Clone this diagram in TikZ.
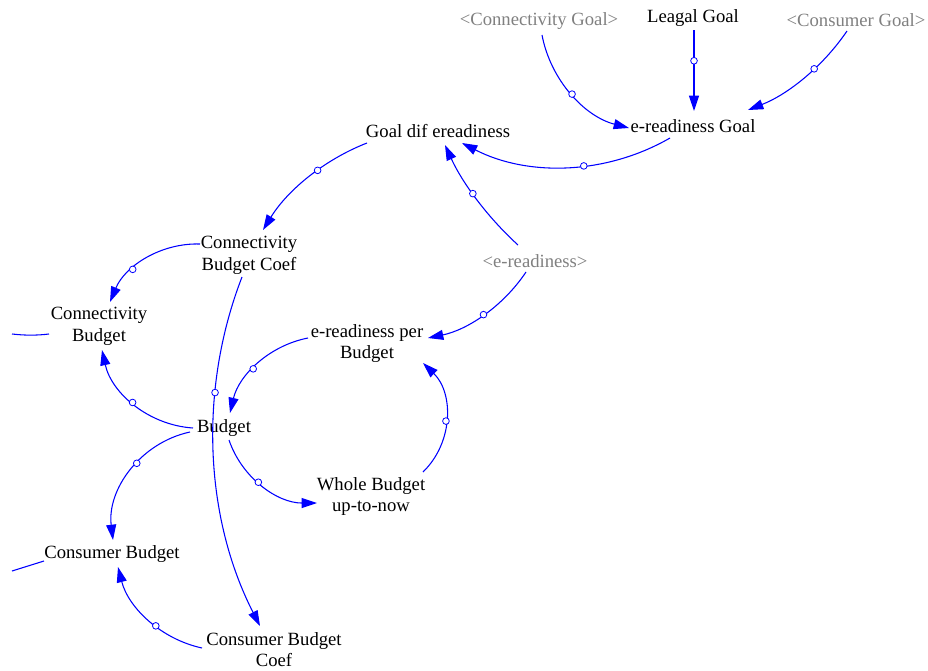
\documentclass[tikz,border=0pt]{standalone}
\usepackage{fontspec}
\setmainfont{Liberation Serif}
\usetikzlibrary{arrows.meta}
\definecolor{linkblue}{RGB}{0,0,255}
\definecolor{ghost}{RGB}{128,128,128}
\begin{document}
\begin{tikzpicture}[x=0.75pt,y=-0.75pt,
  var/.style={font=\fontsize{14}{16.2}\selectfont, align=center, inner sep=0pt},
  shadowvar/.style={var, text=ghost},
  link/.style={draw=linkblue, line width=0.8pt, -{Triangle[length=11.5pt,width=7.5pt]}},
  plainlink/.style={draw=linkblue, line width=0.8pt},
  handle/.style={circle, draw=linkblue, fill=white, line width=0.6pt, minimum size=5pt, inner sep=0pt}]
\useasboundingbox (0,0) rectangle (928,671);

% variables
\node[shadowvar] (cg)   at (539,21.5)  {<Connectivity Goal>};
\node[var]       (lg)   at (693,18.5)  {Leagal Goal};
\node[shadowvar] (csg)  at (856,20.5)  {<Consumer Goal>};
\node[var]       (eg)   at (693,126.5) {e-readiness Goal};
\node[var]       (gd)   at (438,131.5) {Goal dif ereadiness};
\node[shadowvar] (er)   at (535,261.5) {<e-readiness>};
\node[var]       (cbc)  at (249,255.5) {Connectivity\\Budget Coef};
\node[var]       (cb)   at (99,326.5)  {Connectivity\\Budget};
\node[var]       (epb)  at (367,343.5) {e-readiness per\\Budget};
\node[var]       (bud)  at (224,428.5) {Budget};
\node[var]       (wb)   at (371,496.5) {Whole Budget\\up-to-now};
\node[var]       (cnb)  at (112,554.5) {Consumer Budget};
\node[var]       (cnbc) at (274,649.5) {Consumer Budget\\Coef};

% loose ends entering from the left
\coordinate (inA) at (12,334);
\coordinate (inB) at (12,571);

% causal links
\draw[link] ([shift={(3,13.5)}]cg.center) .. controls (550.6,80.2) and (584.5,116.4) .. ([shift={(-64,1.5)}]eg.center) node[handle,pos=0.5]{};
\draw[link] ([shift={(1,11.5)}]lg.center) -- ([shift={(1,-15.5)}]eg.center) node[handle,pos=0.38]{};
\draw[link] ([shift={(-9,10.5)}]csg.center) .. controls (822.7,66.7) and (788.2,94.2) .. ([shift={(55,-16.5)}]eg.center) node[handle,pos=0.39]{};
\draw[link] ([shift={(-23,11.5)}]eg.center) .. controls (606.0,174.9) and (527.7,176.8) .. ([shift={(24,11.5)}]gd.center) node[handle,pos=0.42]{};
\draw[link] ([shift={(-17,-16.5)}]er.center) .. controls (487.2,216.9) and (462.4,182.9) .. ([shift={(7,13.5)}]gd.center) node[handle,pos=0.55]{};
\draw[link] ([shift={(-9,10.5)}]er.center) .. controls (503.3,306.0) and (468.0,329.7) .. ([shift={(61,-5.5)}]epb.center) node[handle,pos=0.5]{};
\draw[link] ([shift={(-71,11.5)}]gd.center) .. controls (323.8,159.9) and (287.3,190.5) .. ([shift={(14,-25.5)}]cbc.center) node[handle,pos=0.41]{};
\draw[link] ([shift={(-49,-11.5)}]cbc.center) .. controls (160.9,242.8) and (125.1,265.9) .. ([shift={(11,-24.5)}]cb.center) node[handle,pos=0.65]{};
\draw[link] ([shift={(-7,21.5)}]cbc.center) .. controls (198.2,390.1) and (204.8,518.0) .. ([shift={(-14,-23.5)}]cnbc.center) node[handle,pos=0.33]{};
\draw[link] ([shift={(-31,-0.5)}]bud.center) .. controls (148.7,425.1) and (111.6,393.3) .. ([shift={(3,23.5)}]cb.center) node[handle,pos=0.52]{};
\draw[link] ([shift={(-59,-5.5)}]epb.center) .. controls (269.5,345.5) and (239.0,374.8) .. ([shift={(6,-15.5)}]bud.center) node[handle,pos=0.56]{};
\draw[link] ([shift={(5,11.5)}]bud.center) .. controls (241.8,477.7) and (277.2,503.1) .. ([shift={(-54,6.5)}]wb.center) node[handle,pos=0.45]{};
\draw[link] ([shift={(52,-24.5)}]wb.center) .. controls (453.7,442.2) and (453.7,392.8) .. ([shift={(56,19.5)}]epb.center) node[handle,pos=0.47]{};
\draw[link] ([shift={(-34,3.5)}]bud.center) .. controls (140.3,442.7) and (106.9,489.6) .. ([shift={(1,-14.5)}]cnb.center) node[handle,pos=0.43]{};
\draw[link] ([shift={(-72,-1.5)}]cnbc.center) .. controls (161.0,639.1) and (128.4,607.7) .. ([shift={(6,12.5)}]cnb.center) node[handle,pos=0.42]{};

\draw[plainlink] (inA) .. controls (25,335.5) and (37,335.5) .. ([shift={(-50,7.5)}]cb.center);
\draw[plainlink] (inB) -- ([shift={(-68,6.5)}]cnb.center);
\end{tikzpicture}
\end{document}
